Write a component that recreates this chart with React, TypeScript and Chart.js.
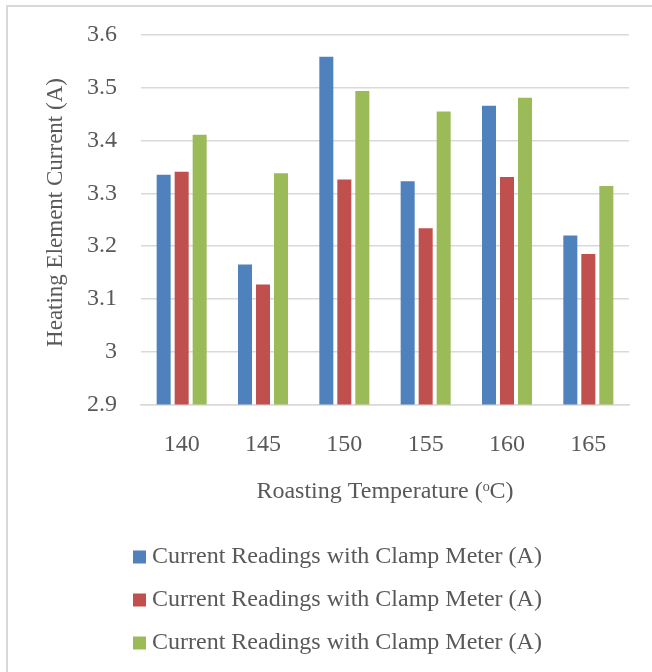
import { useEffect, useRef } from "react";
import { Chart, registerables } from "chart.js";

Chart.register(...registerables);

// Roasting temperatures (°C) on the category axis
const temperatures = ["140", "145", "150", "155", "160", "165"];

// Heating element current readings (A), one list per measurement run
const seriesLabel = "Current Readings with Clamp Meter (A)";
const runOne = [3.335, 3.165, 3.559, 3.323, 3.466, 3.22];
const runTwo = [3.341, 3.127, 3.326, 3.234, 3.331, 3.185];
const runThree = [3.411, 3.338, 3.494, 3.455, 3.481, 3.314];

// Value axis range
const yMin = 2.9;
const yMax = 3.6;
const yStep = 0.1;

const yTitle = "Heating Element Current (A)";
const xTitle = "Roasting Temperature (ᵒC)";

const FONT = "'Times New Roman', 'Liberation Serif', serif";
const TEXT = "#595959";
const GRID = "#d9d9d9";
const COLORS = ["#4F81BD", "#C0504D", "#9BBB59"];

// Vertical value-axis title plus a legend with one entry per row
const sideLabels = {
  id: "sideLabels",
  afterDraw(chart: any) {
    const ctx = chart.ctx;
    ctx.save();
    ctx.fillStyle = TEXT;
    ctx.font = `23px ${FONT}`;
    ctx.textBaseline = "middle";
    ctx.textAlign = "center";
    ctx.translate(56, 212.5);
    ctx.rotate(-Math.PI / 2);
    ctx.fillText(yTitle, 0, 0);
    ctx.restore();

    ctx.save();
    ctx.font = `24px ${FONT}`;
    ctx.textBaseline = "middle";
    ctx.textAlign = "left";
    chart.data.datasets.forEach((ds: any, i: number) => {
      const cy = 557 + i * 43;
      ctx.fillStyle = ds.backgroundColor;
      ctx.fillRect(133, cy - 6.5, 13, 13);
      ctx.fillStyle = TEXT;
      ctx.fillText(ds.label, 152, cy);
    });
    ctx.restore();
  },
};

export default function App() {
  const canvasRef = useRef<HTMLCanvasElement | null>(null);

  useEffect(() => {
    const canvas = canvasRef.current;
    if (!canvas) return;
    const series = [runOne, runTwo, runThree];
    const chart = new Chart(canvas, {
      type: "bar",
      data: {
        labels: temperatures,
        datasets: series.map((values, i) => ({
          label: seriesLabel,
          data: values,
          backgroundColor: COLORS[i],
          borderWidth: 0,
          categoryPercentage: 0.664,
          barPercentage: 0.778,
        })),
      },
      options: {
        responsive: false,
        animation: false,
        layout: { padding: { top: 35, right: 23, left: 63, bottom: 166 } },
        plugins: {
          legend: { display: false },
          tooltip: { enabled: false },
        },
        scales: {
          x: {
            grid: { display: false, drawTicks: false },
            border: { color: GRID, width: 1.5 },
            ticks: { color: TEXT, font: { family: FONT, size: 24 }, padding: 26 },
            title: {
              display: true,
              text: xTitle,
              color: TEXT,
              font: { family: FONT, size: 24 },
              padding: { top: -8, bottom: 0 },
            },
          },
          y: {
            min: yMin,
            max: yMax,
            grid: { color: GRID, lineWidth: 1.5, drawTicks: false },
            border: { display: false },
            ticks: {
              stepSize: yStep,
              color: TEXT,
              font: { family: FONT, size: 24 },
              padding: 24,
              callback: (v: any) => String(Math.round(Number(v) * 10) / 10),
            },
            // tick padding should only push labels sideways, not down from the top
            afterFit: (scale: any) => {
              scale.paddingTop = 0;
              scale.paddingBottom = 0;
            },
          },
        },
      },
      plugins: [sideLabels],
    });
    return () => chart.destroy();
  }, []);

  return (
    <div
      style={{
        position: "fixed",
        left: 0,
        top: 0,
        width: 652,
        height: 672,
        overflow: "hidden",
        background: "#fff",
      }}
    >
      <div
        style={{
          position: "absolute",
          left: 6,
          top: 5,
          width: 660,
          height: 680,
          borderTop: `2px solid ${GRID}`,
          borderLeft: `2px solid ${GRID}`,
        }}
      />
      <canvas
        ref={canvasRef}
        width={652}
        height={672}
        style={{ position: "absolute", left: 0, top: 0, display: "block" }}
      />
    </div>
  );
}
